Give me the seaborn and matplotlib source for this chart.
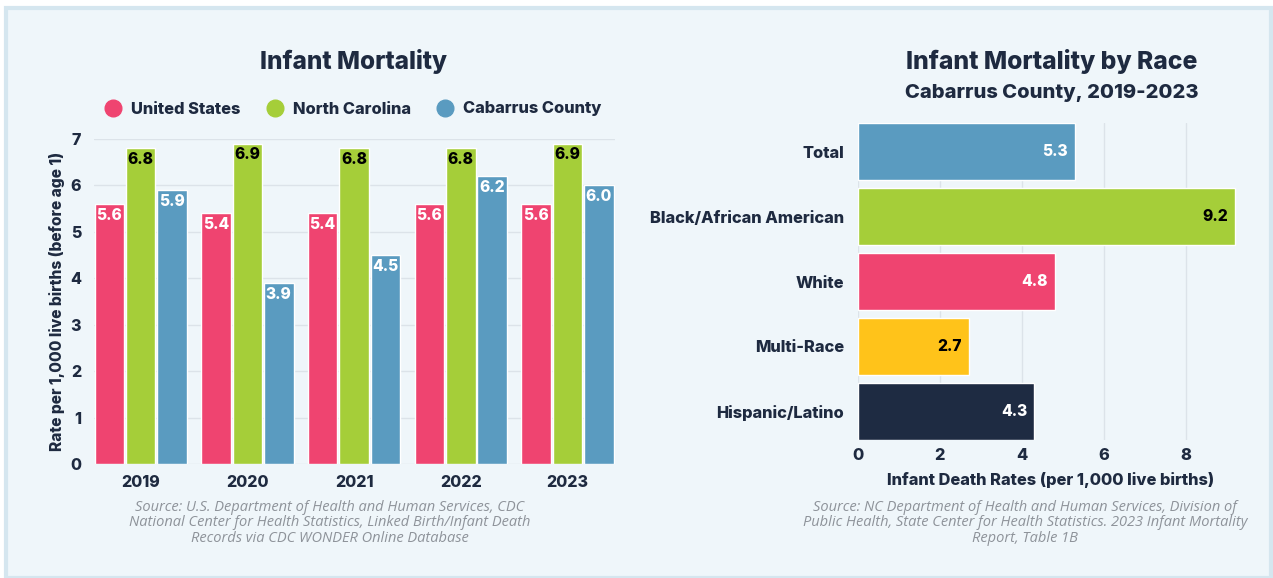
import matplotlib
matplotlib.use("Agg")
import matplotlib.pyplot as plt
from matplotlib.patches import Rectangle
from matplotlib.lines import Line2D
import seaborn as sns
import pandas as pd

# ---- data ----
years = ["2019", "2020", "2021", "2022", "2023"]
united_states = [5.6, 5.4, 5.4, 5.6, 5.6]
north_carolina = [6.8, 6.9, 6.8, 6.8, 6.9]
cabarrus = [5.9, 3.9, 4.5, 6.2, 6.0]
series_names = ["United States", "North Carolina", "Cabarrus County"]

races = ["Total", "Black/African American", "White", "Multi-Race", "Hispanic/Latino"]
race_rates = [5.3, 9.2, 4.8, 2.7, 4.3]

# ---- styling ----
BG = "#EFF6FA"
BORDER = "#D5E6EF"
NAVY = "#1E2A40"
GRID = "#DCE3E9"
PINK = "#EF4470"
GREEN = "#A5CE39"
BLUE = "#5A9BC0"
YELLOW = "#FFC31A"
DARK = "#1E2B42"
SRC = "#8E939A"
W = 800  # heavy weight for labels

sns.set_theme(style="white")
plt.rcParams["font.family"] = ["Inter", "DejaVu Sans"]
plt.rcParams["font.weight"] = "bold"

fig = plt.figure(figsize=(12.73, 5.78), dpi=100)
fig.patch.set_facecolor("white")
fig.patches.append(Rectangle((6 / 1273, 0.0), 1 - 8 / 1273, 1 - 8 / 578,
                             transform=fig.transFigure, facecolor=BG,
                             edgecolor=BORDER, linewidth=3, zorder=-5))

# ---- left: grouped columns ----
df = pd.DataFrame({
    "year": years * 3,
    "rate": united_states + north_carolina + cabarrus,
    "series": [s for s in series_names for _ in years],
})
ax1 = fig.add_axes([93.6 / 1273, 1 - 464 / 578, 521 / 1273, 325 / 578])
ax1.set_facecolor(BG)
sns.barplot(data=df, x="year", y="rate", hue="series", palette=[PINK, GREEN, BLUE],
            width=0.883, gap=0.06, legend=False, ax=ax1, saturation=1)
ax1.set_xlim(-0.4415, 4.4415)
ax1.set_ylim(0, 7)
ax1.set_yticks(range(0, 8))
ax1.yaxis.grid(True, color=GRID, linewidth=1)
ax1.set_axisbelow(True)
for s in ax1.spines.values():
    s.set_visible(False)
ax1.tick_params(length=0, labelsize=11.5, labelcolor=NAVY, pad=8)
ax1.tick_params(axis="y", pad=9)
for lab in ax1.get_xticklabels() + ax1.get_yticklabels():
    lab.set_fontweight(W)
ax1.set_xlabel("")
ax1.set_ylabel("Rate per 1,000 live births (before age 1)", fontsize=11.2,
               fontweight=W, color=NAVY, labelpad=4)

label_colors = ["white", "black", "white"]
for cont, col in zip(ax1.containers, label_colors):
    for bar in cont:
        h = bar.get_height()
        ax1.annotate(f"{h:.1f}", (bar.get_x() + bar.get_width() / 2, h),
                     xytext=(0, -8), textcoords="offset points", ha="center",
                     va="center", fontsize=11.2, fontweight=W, color=col)

fig.text(354 / 1273, 1 - 62 / 578, "Infant Mortality", ha="center", va="center",
         fontsize=17.5, fontweight=W, color=NAVY)

handles = [Line2D([], [], marker="o", linestyle="", markersize=12,
                  markerfacecolor=c, markeredgecolor=c) for c in (PINK, GREEN, BLUE)]
leg = fig.legend(handles, series_names, loc="center", bbox_to_anchor=(349 / 1273, 1 - 109 / 578),
                 ncol=3, frameon=False, handletextpad=0.1, columnspacing=1.1,
                 prop={"weight": W, "size": 11.8})
for t in leg.get_texts():
    t.set_color(NAVY)

fig.text(330 / 1273, 1 - 523 / 578,
         "Source: U.S. Department of Health and Human Services, CDC\n"
         "National Center for Health Statistics, Linked Birth/Infant Death\n"
         "Records via CDC WONDER Online Database",
         ha="center", va="center", fontsize=10.5, style="italic", fontweight="normal",
         color=SRC, family=["Open Sans", "DejaVu Sans"], linespacing=1.05)

# ---- right: horizontal bars by race ----
ax2 = fig.add_axes([858 / 1273, 1 - 440 / 578, 385 / 1273, 317 / 578])
ax2.set_facecolor(BG)
sns.barplot(x=race_rates, y=races, hue=races, palette=[BLUE, GREEN, PINK, YELLOW, DARK],
            orient="h", width=0.877, legend=False, ax=ax2, saturation=1)
ax2.set_xlim(0, 9.4)
ax2.set_ylim(4.4385, -0.4385)
ax2.set_xticks([0, 2, 4, 6, 8])
ax2.xaxis.grid(True, color=GRID, linewidth=1)
ax2.set_axisbelow(True)
for s in ax2.spines.values():
    s.set_visible(False)
ax2.tick_params(length=0, labelsize=11.8, labelcolor=NAVY)
ax2.tick_params(axis="x", pad=6)
ax2.tick_params(axis="y", pad=10)
for lab in ax2.get_xticklabels() + ax2.get_yticklabels():
    lab.set_fontweight(W)
ax2.set_xlabel("Infant Death Rates (per 1,000 live births)", fontsize=11.8,
               fontweight=W, color=NAVY, labelpad=6)
ax2.set_ylabel("")

race_label_colors = ["white", "black", "white", "black", "white"]
for cont in ax2.containers:
    for bar in cont:
        w = bar.get_width()
        idx = int(round(bar.get_y() + bar.get_height() / 2))
        ax2.annotate(f"{w:.1f}", (w, bar.get_y() + bar.get_height() / 2),
                     xytext=(-5, 0), textcoords="offset points", ha="right",
                     va="center", fontsize=11.2, fontweight=W,
                     color=race_label_colors[idx])

fig.text(1052 / 1273, 1 - 62 / 578, "Infant Mortality by Race", ha="center", va="center",
         fontsize=17.8, fontweight=W, color=NAVY)
fig.text(1052 / 1273, 1 - 93 / 578, "Cabarrus County, 2019-2023", ha="center", va="center",
         fontsize=14.5, fontweight=W, color=NAVY)

fig.text(1025 / 1273, 1 - 523 / 578,
         "Source: NC Department of Health and Human Services, Division of\n"
         "Public Health, State Center for Health Statistics. 2023 Infant Mortality\n"
         "Report, Table 1B",
         ha="center", va="center", fontsize=10.5, style="italic", fontweight="normal",
         color=SRC, family=["Open Sans", "DejaVu Sans"], linespacing=1.05)

fig.savefig("out.png", dpi=100, facecolor=fig.get_facecolor())
